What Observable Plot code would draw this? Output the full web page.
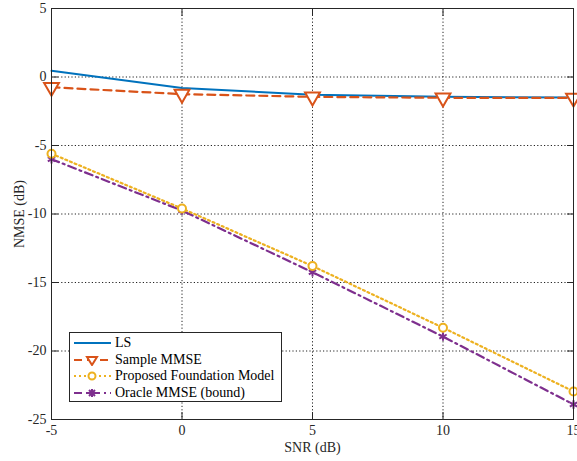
<!DOCTYPE html>
<html>
<head>
<meta charset="utf-8">
<script src="https://cdn.jsdelivr.net/npm/d3@7"></script>
<script src="https://cdn.jsdelivr.net/npm/@observablehq/plot@0.6"></script>
<style>
  body { margin: 0; background: #fff; font-family: "Liberation Serif", "Times New Roman", serif; }
  #wrap { position: relative; width: 577px; height: 461px; font-family: "Liberation Serif", "Times New Roman", serif; }
  #wrap svg text { font-family: "Liberation Serif", "Times New Roman", serif; }
  #legend { position: absolute; left: 69px; top: 332px; width: 211px; height: 68px; border: 1px solid #262626; background: #fff; font-size: 14px; color: #000; }
  .row { position: absolute; left: 0; height: 16px; display: flex; align-items: center; }
  .row svg { margin-left: 4px; }
  .row span { margin-left: 4px; white-space: nowrap; }
</style>
</head>
<body>
<div id="wrap"></div>
<script>
const snr = [-5, 0, 5, 10, 15];
const ls = [0.45, -0.8, -1.3, -1.45, -1.5];
const sampleMmse = [-0.75, -1.25, -1.45, -1.52, -1.53];
const proposed = [-5.6, -9.6, -13.8, -18.3, -22.95];
const oracle = [-6.0, -9.75, -14.25, -18.95, -23.9];
const xTicks = [-5, 0, 5, 10, 15];
const yTicks = [5, 0, -5, -10, -15, -20, -25];
const seriesNames = ["LS", "Sample MMSE", "Proposed Foundation Model", "Oracle MMSE (bound)"];
const colors = ["#0072BD", "#D95319", "#EDB120", "#7E2F8E"];

const toRows = (vals) => snr.map((x, i) => ({x, y: vals[i]}));
const dLS = toRows(ls), dS = toRows(sampleMmse), dP = toRows(proposed), dO = toRows(oracle);

const axisColor = "#262626";
const fmt = (d) => String(d);
const chart = Plot.plot({
  width: 577,
  height: 461,
  marginLeft: 51,
  marginRight: 4,
  marginTop: 8,
  marginBottom: 42,
  style: {fontFamily: "'Liberation Serif', 'Times New Roman', serif", fontSize: "14px", color: "#000", background: "#fff"},
  x: {domain: [-5, 15], ticks: xTicks},
  y: {domain: [-25, 5], ticks: yTicks},
  marks: [
    Plot.ruleX(xTicks, {stroke: "#222", strokeDasharray: "1.2,2.2", strokeWidth: 1}),
    Plot.ruleY(yTicks, {stroke: "#222", strokeDasharray: "1.2,2.2", strokeWidth: 1}),
    Plot.axisX({ticks: xTicks, tickFormat: fmt, tickSize: 0, tickPadding: 6, label: "SNR (dB)", labelAnchor: "center", labelArrow: "none", labelOffset: 32, fill: "#262626"}),
    Plot.axisY({ticks: yTicks, tickFormat: fmt, tickSize: 0, tickPadding: 5, label: "NMSE (dB)", labelAnchor: "center", labelArrow: "none", labelOffset: 37, fill: "#262626"}),
    Plot.axisX({ticks: xTicks, tickSize: -7, text: null, label: null, stroke: axisColor}),
    Plot.axisX({anchor: "top", ticks: xTicks, tickSize: -7, text: null, label: null, stroke: axisColor}),
    Plot.axisY({ticks: yTicks, tickSize: -7, text: null, label: null, stroke: axisColor}),
    Plot.axisY({anchor: "right", ticks: yTicks, tickSize: -7, text: null, label: null, stroke: axisColor}),
    Plot.line(dLS, {x: "x", y: "y", stroke: colors[0], strokeWidth: 2}),
    Plot.line(dS, {x: "x", y: "y", stroke: colors[1], strokeWidth: 2.2, strokeDasharray: "8,5"}),
    Plot.dot(dS, {x: "x", y: "y", symbol: "triangle", rotate: 180, r: 5.5, stroke: colors[1], strokeWidth: 2, fill: "#fff"}),
    Plot.line(dO, {x: "x", y: "y", stroke: colors[3], strokeWidth: 2.2, strokeDasharray: "8,4,2,4"}),
    Plot.dot(dO, {x: "x", y: "y", symbol: "asterisk", r: 4, stroke: colors[3], strokeWidth: 2}),
    Plot.line(dP, {x: "x", y: "y", stroke: colors[2], strokeWidth: 2.2, strokeDasharray: "2,3"}),
    Plot.dot(dP, {x: "x", y: "y", symbol: "circle", r: 4, stroke: colors[2], strokeWidth: 2, fill: "#fff"}),
    Plot.frame({stroke: axisColor, strokeWidth: 1})
  ]
});
const wrap = document.getElementById("wrap");
wrap.appendChild(chart);

// legend
const legend = document.createElement("div");
legend.id = "legend";
const dashes = [null, "8,5", "2,3", "8,4,2,4"];
const markers = [
  "",
  `<path d="M13,-3 L23,-3 L18,5 Z" fill="#fff" stroke="${colors[1]}" stroke-width="2"/>`,
  `<circle cx="18" cy="0" r="3.5" fill="#fff" stroke="${colors[2]}" stroke-width="2"/>`,
  `<g stroke="${colors[3]}" stroke-width="2"><path d="M14,0 L22,0 M18,-4 L18,4 M15,-3 L21,3 M15,3 L21,-3"/></g>`
];
seriesNames.forEach((name, i) => {
  const row = document.createElement("div");
  row.className = "row";
  row.style.top = (2 + i * 16.5) + "px";
  row.innerHTML = `<svg width="37" height="12" viewBox="0 -6 37 12"><line x1="0" y1="0" x2="37" y2="0" stroke="${colors[i]}" stroke-width="2.2" ${dashes[i] ? `stroke-dasharray="${dashes[i]}"` : ""}/>${markers[i]}</svg><span>${name}</span>`;
  legend.appendChild(row);
});
wrap.appendChild(legend);
</script>
</body>
</html>
